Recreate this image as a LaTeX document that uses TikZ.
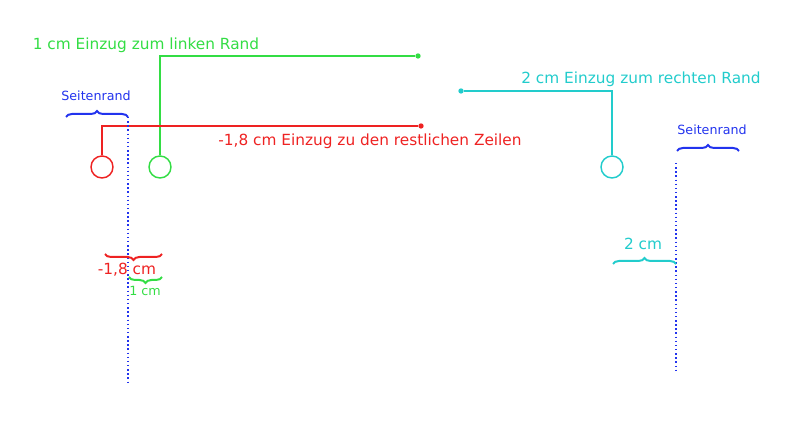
\documentclass[tikz,border=0pt]{standalone}
\usepackage{fontspec}
\setmainfont{DejaVu Sans}
\usetikzlibrary{arrows.meta, positioning, decorations.pathreplacing}
\definecolor{indGreen}{HTML}{33DD44}
\definecolor{indRed}{HTML}{EE2222}
\definecolor{indCyan}{HTML}{22CCCC}
\definecolor{indBlue}{HTML}{2233EE}
\tikzset{
    % Markers
    ruleCircle/.style={circle, draw, line width=1.1pt, minimum size=16.5pt, inner sep=0pt},
    ruleDot/.style={circle, fill, minimum size=4pt, inner sep=0pt},
    ruleLine/.style={line width=1pt},
    % Margins
    marginLine/.style={draw=indBlue, line width=1.1pt, dotted},
    marginBrace/.style={decorate, decoration={brace, amplitude=4.5pt}, line width=1.5pt},
    bigLabel/.style={font=\fontsize{11.5}{13}\selectfont},
    smallLabel/.style={font=\fontsize{9.5}{11}\selectfont}
}
\begin{document}
\begin{tikzpicture}[x=0.75pt, y=-0.75pt]
    \useasboundingbox (0,0) rectangle (800,423);
    % green: left indent
    \node[ruleDot, indGreen] (gDot) at (418,56) {};
    \node[ruleCircle, indGreen] (gCirc) at (160,167) {};
    \draw[ruleLine, indGreen] (gDot) -- (gDot -| gCirc) -- (gCirc);
    \node[bigLabel, text=indGreen] (gLab) at (146,45) {1 cm Einzug zum linken Rand};
    % red: first line
    \node[ruleDot, indRed] (rDot) at (421,126) {};
    \node[ruleCircle, indRed] (rCirc) at (102,167) {};
    \draw[ruleLine, indRed] (rDot) -- (rDot -| rCirc) -- (rCirc);
    \node[bigLabel, text=indRed] (rLab) at (370,141) {-1,8 cm Einzug zu den restlichen Zeilen};
    % cyan: right indent
    \node[ruleDot, indCyan] (cDot) at (461,91) {};
    \node[ruleCircle, indCyan] (cCirc) at (612,167) {};
    \draw[ruleLine, indCyan] (cDot) -- (cDot -| cCirc) -- (cCirc);
    \node[bigLabel, text=indCyan] (cLab) at (641,79) {2 cm Einzug zum rechten Rand};

    % margins
    \coordinate (lTop) at (128,117);
    \coordinate (lBot) at (128,385);
    \draw[marginLine] (lTop) -- (lBot);
    \coordinate (rTop) at (676,163);
    \coordinate (rBot) at (676,372);
    \draw[marginLine] (rTop) -- (rBot);

    \draw[marginBrace, indBlue] (66,117) -- (128,117);
    \node[smallLabel, text=indBlue] (lMarg) at (96,96) {Seitenrand};
    \draw[marginBrace, indBlue] (677,151) -- (739,151);
    \node[smallLabel, text=indBlue] (rMarg) at (712,130) {Seitenrand};

    % measures
    \draw[marginBrace, indRed] (162,254) -- (105,254);
    \node[bigLabel, text=indRed] (rMeas) at (127,270) {-1,8 cm};
    \draw[marginBrace, indGreen] (162,277) -- (129,277);
    \node[smallLabel, text=indGreen] (gMeas) at (145,291) {1 cm};
    \draw[marginBrace, indCyan] (613,264) -- (676,264);
    \node[bigLabel, text=indCyan] (cMeas) at (643,244) {2 cm};
\end{tikzpicture}
\end{document}
